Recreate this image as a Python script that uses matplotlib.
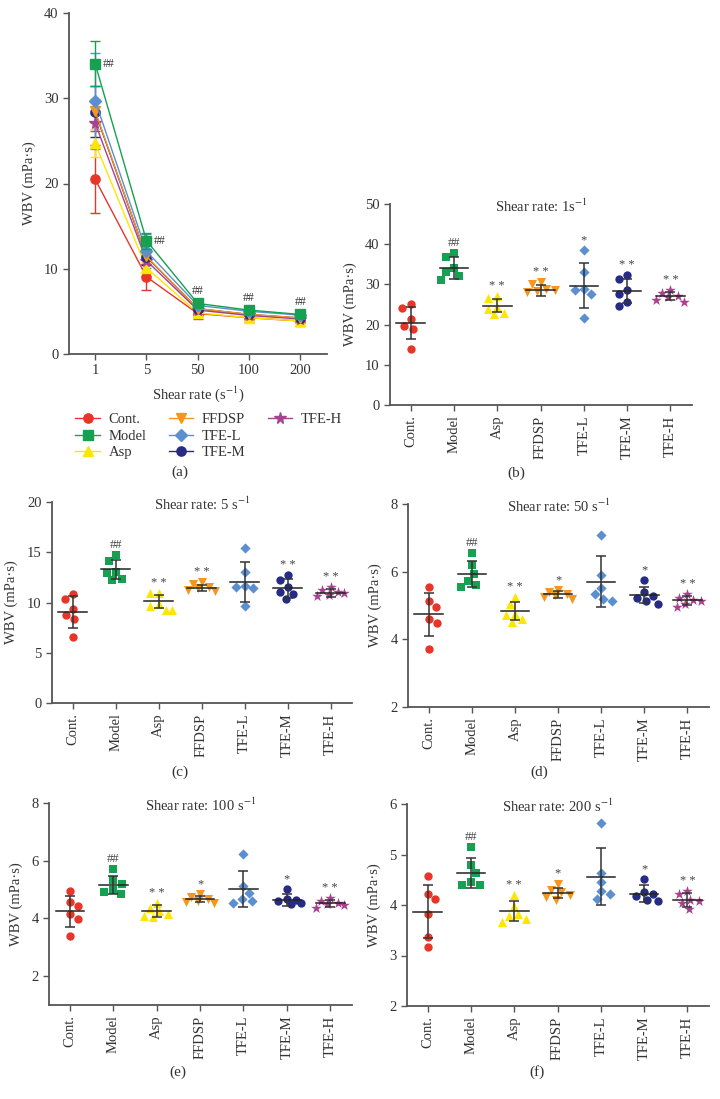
import numpy as np
import matplotlib
matplotlib.use('Agg')
import matplotlib.pyplot as plt
from matplotlib.lines import Line2D

# ---------------- data ----------------
groups = ['Cont.', 'Model', 'Asp', 'FFDSP', 'TFE-L', 'TFE-M', 'TFE-H']
shear_labels = ['1', '5', '50', '100', '200']

pts_1 = [[25.1, 24.2, 21.3, 19.7, 18.9, 13.9],
         [37.7, 36.8, 34.1, 33.0, 32.1, 31.1],
         [27.0, 26.5, 24.3, 24.0, 22.8, 22.6],
         [30.6, 30.0, 28.8, 28.5, 28.3, 28.2],
         [38.5, 33.0, 28.9, 28.5, 27.6, 21.7],
         [32.3, 31.4, 28.7, 27.7, 25.6, 24.7],
         [28.6, 27.8, 27.2, 26.8, 26.2, 25.5]]
mean_1 = [20.5, 34.05, 24.7, 28.5, 29.7, 28.4, 27.1]
sd_1 = [4.0, 2.65, 1.65, 1.45, 5.65, 3.0, 1.0]
sig_1 = ['', '##', '* *', '* *', '*', '* *', '* *']

pts_5 = [[10.8, 10.3, 9.4, 8.8, 8.4, 6.6],
         [14.7, 14.1, 13.0, 12.9, 12.3, 12.2],
         [10.9, 10.9, 9.9, 9.7, 9.3, 9.3],
         [12.0, 11.8, 11.5, 11.4, 11.2, 11.1],
         [15.4, 13.0, 11.6, 11.5, 11.4, 9.7],
         [12.7, 12.2, 11.5, 11.0, 10.8, 10.3],
         [11.5, 11.2, 11.0, 10.9, 10.7, 10.6]]
mean_5 = [9.05, 13.3, 10.1, 11.45, 12.05, 11.4, 10.95]
sd_5 = [1.55, 0.95, 0.65, 0.34, 1.98, 0.93, 0.43]
sig_5 = ['', '##', '* *', '* *', '', '* *', '* *']

pts_50 = [[5.55, 5.13, 4.95, 4.60, 4.47, 3.72],
          [6.56, 6.19, 5.93, 5.73, 5.62, 5.55],
          [5.26, 5.03, 4.76, 4.71, 4.61, 4.51],
          [5.45, 5.40, 5.35, 5.30, 5.25, 5.20],
          [7.08, 5.89, 5.53, 5.33, 5.18, 5.13],
          [5.74, 5.40, 5.28, 5.22, 5.12, 5.05],
          [5.35, 5.22, 5.15, 5.12, 5.05, 4.95]]
mean_50 = [4.74, 5.93, 4.83, 5.33, 5.70, 5.31, 5.15]
sd_50 = [0.63, 0.39, 0.26, 0.10, 0.75, 0.25, 0.14]
sig_50 = ['', '##', '* *', '*', '', '*', '* *']

pts_100 = [[4.94, 4.57, 4.43, 4.15, 3.99, 3.38],
           [5.71, 5.33, 5.20, 5.00, 4.90, 4.85],
           [4.55, 4.35, 4.25, 4.15, 4.10, 4.05],
           [4.85, 4.75, 4.68, 4.62, 4.58, 4.55],
           [6.22, 5.14, 4.89, 4.68, 4.60, 4.55],
           [5.01, 4.68, 4.65, 4.60, 4.55, 4.50],
           [4.70, 4.60, 4.55, 4.50, 4.45, 4.35]]
mean_100 = [4.25, 5.15, 4.26, 4.66, 5.01, 4.64, 4.52]
sd_100 = [0.54, 0.32, 0.22, 0.10, 0.63, 0.20, 0.11]
sig_100 = ['', '##', '* *', '*', '', '*', '* *']

pts_200 = [[4.57, 4.21, 4.11, 3.82, 3.36, 3.16],
           [5.14, 4.79, 4.64, 4.45, 4.40, 4.40],
           [4.20, 3.98, 3.82, 3.78, 3.73, 3.66],
           [4.42, 4.30, 4.25, 4.20, 4.15, 4.10],
           [5.62, 4.64, 4.45, 4.27, 4.22, 4.11],
           [4.51, 4.26, 4.22, 4.18, 4.10, 4.07],
           [4.27, 4.21, 4.10, 4.07, 4.03, 3.92]]
mean_200 = [3.87, 4.64, 3.88, 4.23, 4.56, 4.22, 4.10]
sd_200 = [0.53, 0.30, 0.19, 0.10, 0.56, 0.17, 0.13]
sig_200 = ['', '##', '* *', '*', '', '*', '* *']

# ---------------- style ----------------
plt.rcParams['font.family'] = ['Liberation Serif', 'DejaVu Serif']
plt.rcParams['mathtext.fontset'] = 'stix'
plt.rcParams['font.size'] = 10

colors = ['#e8352a', '#16a052', '#ffe600', '#f5961f', '#5b8fcf', '#262c85', '#a8418f']
markers = ['o', 's', '^', 'v', 'D', 'o', '*']
msize = [7, 7, 7, 7, 6, 7, 9]
dsize = [6, 6, 6.5, 6.5, 5.2, 6, 8]
spine_c = '#555555'
text_c = '#333333'

W, H = 720, 1099
fig = plt.figure(figsize=(W / 100, H / 100), dpi=100)


def add_ax(x0, y0, x1, y1):
    return fig.add_axes([x0 / W, 1 - y1 / H, (x1 - x0) / W, (y1 - y0) / H])


def style_ax(ax):
    for s in ['top', 'right']:
        ax.spines[s].set_visible(False)
    for s in ['left', 'bottom']:
        ax.spines[s].set_color(spine_c)
        ax.spines[s].set_linewidth(1.3)
    ax.tick_params(direction='out', length=4, width=1, color=spine_c,
                   labelcolor=text_c, labelsize=10.5)


# ---------------- panel (a) ----------------
axa = add_ax(69, 13, 327, 354)
style_ax(axa)
xs = np.arange(len(shear_labels))
means_all = [mean_1, mean_5, mean_50, mean_100, mean_200]
sds_all = [sd_1, sd_5, sd_50, sd_100, sd_200]
order = [0, 2, 6, 5, 3, 4, 1]
for gi in order:
    m = [mm[gi] for mm in means_all]
    s = [ss[gi] for ss in sds_all]
    axa.errorbar(xs, m, yerr=s, color=colors[gi], marker=markers[gi],
                 ms=msize[gi] * 0.95, lw=1.0, capsize=3.5, elinewidth=1.0,
                 capthick=1.0, zorder=3 + (gi == 1))
axa.set_xlim(-0.51, 4.52)
axa.set_ylim(0, 40)
axa.set_yticks([0, 10, 20, 30, 40])
axa.set_xticks(xs)
axa.set_xticklabels(shear_labels)
axa.set_xlabel('Shear rate (s$^{-1}$)', color=text_c, fontsize=10.5, labelpad=5)
axa.set_ylabel('WBV (mPa·s)', color=text_c, fontsize=10.5, labelpad=6)
mm = [m[1] for m in means_all]
axa.text(xs[0] + 0.15, mm[0], '##', fontsize=8.5, color=text_c, va='center', ha='left')
axa.text(xs[1] + 0.15, mm[1], '##', fontsize=8.5, color=text_c, va='center', ha='left')
for k in [2, 3, 4]:
    axa.text(xs[k], mm[k] + 0.7, '##', fontsize=8.5, color=text_c, va='bottom', ha='center')

handles = [Line2D([0], [0], color=colors[i], marker=markers[i], ms=msize[i] * 0.95, lw=1.0)
           for i in range(7)]
blank = Line2D([0], [0], color='none', lw=0)
fig.legend(handles + [blank, blank], groups + ['', ''], loc='upper left',
           bbox_to_anchor=(62 / W, 1 - 400 / H),
           ncol=3, frameon=False, fontsize=10.5, handlelength=1.7,
           columnspacing=1.5, handletextpad=0.6, labelspacing=0.22,
           labelcolor=text_c)
fig.text(180 / W, 1 - 472 / H, '(a)', ha='center', va='center', fontsize=11, color=text_c)


# ---------------- dot panels ----------------
def swarm_offsets(vals, ax, d_px=9.0, unit_px=43.3, max_px=14.0):
    ylo, yhi = ax.get_ylim()
    hpx = ax.get_position().height * H
    ppu = hpx / (yhi - ylo)
    placed = []
    offs = np.zeros(len(vals))
    idx = np.argsort(-np.asarray(vals))
    for n, i in enumerate(idx):
        y = vals[i] * ppu
        cands = [0.0]
        sign = 1 if n % 2 == 0 else -1
        for k in np.arange(0.5, max_px + 0.01, 0.5):
            cands += [sign * k, -sign * k]
        best, best_d = 0.0, -1
        chosen = None
        for c in cands:
            dmin = min([np.hypot(c - px, y - py) for px, py in placed] + [1e9])
            if dmin >= d_px:
                chosen = c
                break
            if dmin > best_d:
                best, best_d = c, dmin
        if chosen is None:
            chosen = best
        placed.append((chosen, y))
        offs[i] = chosen / unit_px
    return offs


def dot_panel(box, pts, means, sds, sig, ylim, yticks, title, label, label_xy):
    ax = add_ax(*box)
    style_ax(ax)
    ax.set_xlim(-0.48, 6.5)
    ax.set_ylim(*ylim)
    ax.set_yticks(yticks)
    ax.set_xticks(range(len(groups)))
    ax.set_xticklabels(groups, rotation=90, fontsize=10.5)
    ax.set_ylabel('WBV (mPa·s)', color=text_c, fontsize=10.5, labelpad=6)
    rng = ylim[1] - ylim[0]
    for gi in range(len(groups)):
        v = pts[gi]
        offs = swarm_offsets(v, ax)
        ax.scatter(gi + offs, v, s=dsize[gi] ** 2, color=colors[gi],
                   marker=markers[gi], linewidths=0, zorder=2)
        m, s = means[gi], sds[gi]
        ax.plot([gi - 0.33, gi + 0.33], [m, m], color='#222222', lw=1.1, zorder=3)
        ax.errorbar([gi], [m], yerr=[s], fmt='none', ecolor='#333333',
                    elinewidth=1.1, capsize=3.5, capthick=1.1, zorder=3)
        if sig[gi]:
            top = max(max(v), m + s)
            ax.text(gi, top + 0.02 * rng, sig[gi], ha='center', va='bottom',
                    fontsize=9, color='#444444')
    ax.text(0.5, 0.99, title, transform=ax.transAxes, ha='center', va='center',
            fontsize=10.5, color=text_c)
    fig.text(label_xy[0] / W, 1 - label_xy[1] / H, label, ha='center', va='center',
             fontsize=11, color=text_c)
    return ax


dot_panel((390, 204, 692, 405), pts_1, mean_1, sd_1, sig_1, (0, 50),
          [0, 10, 20, 30, 40, 50], 'Shear rate: 1s$^{-1}$', '(b)', (516, 473))
dot_panel((52, 502, 352, 703), pts_5, mean_5, sd_5, sig_5, (0, 20),
          [0, 5, 10, 15, 20], 'Shear rate: 5 s$^{-1}$', '(c)', (180, 772))
dot_panel((408, 504, 709, 707), pts_50, mean_50, sd_50, sig_50, (2, 8),
          [2, 4, 6, 8], 'Shear rate: 50 s$^{-1}$', '(d)', (539, 772))
dot_panel((49, 803, 352, 1005), pts_100, mean_100, sd_100, sig_100, (1, 8),
          [2, 4, 6, 8], 'Shear rate: 100 s$^{-1}$', '(e)', (178, 1072))
dot_panel((407, 804, 709, 1006), pts_200, mean_200, sd_200, sig_200, (2, 6),
          [2, 3, 4, 5, 6], 'Shear rate: 200 s$^{-1}$', '(f)', (537, 1072))

fig.savefig('out.png', dpi=100)
